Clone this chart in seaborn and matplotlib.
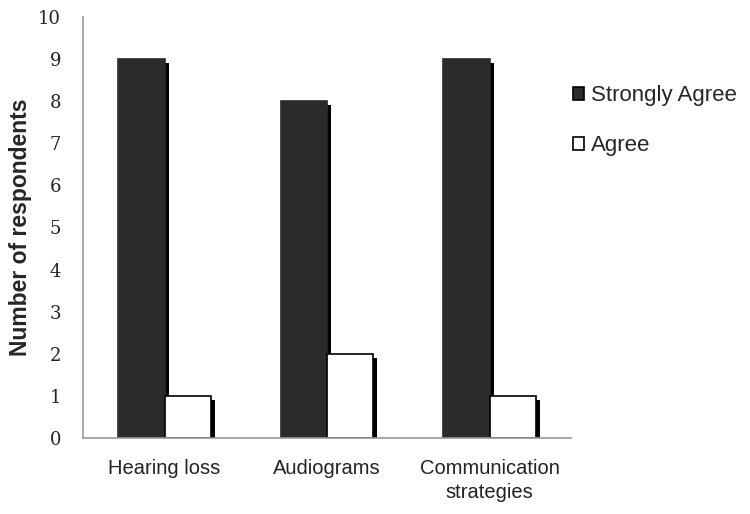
import matplotlib
matplotlib.use("Agg")
import matplotlib.pyplot as plt
import matplotlib.patheffects as pe
import pandas as pd
import seaborn as sns

categories = ["Hearing loss", "Audiograms", "Communication\nstrategies"]
strongly_agree = [9, 8, 9]
agree = [1, 2, 1]
series_names = ["Strongly Agree", "Agree"]
y_ticks = list(range(0, 11))

df = pd.DataFrame({
    "category": categories * 2,
    "response": [series_names[0]] * 3 + [series_names[1]] * 3,
    "count": strongly_agree + agree,
})

sns.set_style("white")
plt.rcParams["font.family"] = ["Liberation Sans", "DejaVu Sans"]

fig = plt.figure(figsize=(7.5, 5.14), dpi=100)
ax = fig.add_axes([0.111, 0.148, 0.650, 0.819])

sns.barplot(data=df, x="category", y="count", hue="response",
            hue_order=series_names, palette=["#2b2b2b", "white"],
            width=0.57, ax=ax, legend=True, saturation=1)

shadow = [pe.SimplePatchShadow(offset=(3, -3), shadow_rgbFace="black", alpha=1.0), pe.Normal()]
for cont, edge in zip(ax.containers, ["#2b2b2b", "black"]):
    for bar in cont:
        bar.set_edgecolor(edge)
        bar.set_linewidth(1.2)
        bar.set_path_effects(shadow)

ax.set_xlim(-0.5, 2.5)
ax.set_ylim(0, 10)
ax.set_yticks(y_ticks)
ax.set_yticklabels([str(t) for t in y_ticks], family="DejaVu Serif", fontsize=13, color="#222222")
ax.set_xticks(range(3))
ax.set_xticklabels(categories, fontsize=14.5, color="#222222", linespacing=1.35)
ax.set_xticks([-0.5, 0.5, 1.5, 2.5], minor=True)
ax.tick_params(axis="x", which="major", length=0, pad=15)
ax.tick_params(axis="x", which="minor", length=5, width=1, color="#999999", direction="out")
ax.tick_params(axis="y", length=5, width=1, color="#999999", direction="out", pad=11)

for side in ["top", "right"]:
    ax.spines[side].set_visible(False)
for side in ["left", "bottom"]:
    ax.spines[side].set_color("#999999")
    ax.spines[side].set_linewidth(1.2)

ax.set_xlabel("")
ax.set_ylabel("Number of respondents", fontsize=16.5, fontweight="bold", labelpad=4)

leg = ax.legend(loc="upper left", bbox_to_anchor=(1.0, 0.843), frameon=False,
                fontsize=16, handlelength=0.5, handleheight=0.5,
                handletextpad=0.3, labelspacing=1.3, borderaxespad=0.0, borderpad=0.1)
for h in leg.legend_handles:
    h.set_edgecolor("black")
    h.set_linewidth(1.2)
    h.set_path_effects([])

fig.savefig("out.png", dpi=100)
